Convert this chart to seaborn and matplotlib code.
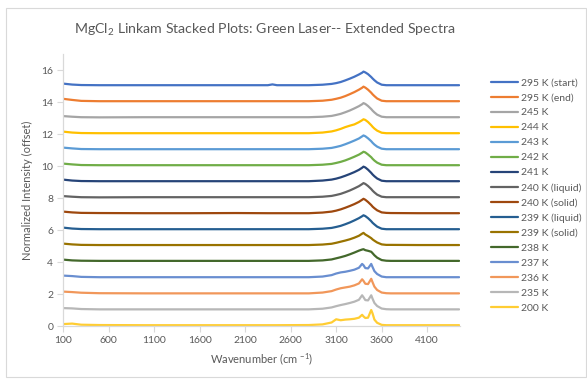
import matplotlib
matplotlib.use("Agg")
import matplotlib.pyplot as plt
import seaborn as sns
import pandas as pd
from matplotlib.patches import Rectangle

sns.set_theme(style="white")
plt.rcParams["font.family"] = ["Lato", "DejaVu Sans"]
plt.rcParams["mathtext.default"] = "regular"

# Sampled wavenumbers (cm^-1) shared by every spectrum
wavenumber = [100, 200, 300, 500, 1000, 1500, 2000, 2350, 2400, 2450, 2800, 2950,
              3050, 3100, 3150, 3200, 3250, 3300, 3350, 3385, 3400, 3420, 3450,
              3485, 3500, 3520, 3550, 3600, 3650, 3700, 4000, 4450]

# Normalized intensity of each spectrum before the stacking offset
i_295_start = [0.15, 0.09, 0.06, 0.05, 0.05, 0.05, 0.05, 0.05, 0.10, 0.05, 0.05, 0.08,
               0.13, 0.18, 0.25, 0.35, 0.46, 0.58, 0.72, 0.83, 0.90, 0.85, 0.74,
               0.56, 0.47, 0.36, 0.22, 0.08, 0.05, 0.05, 0.05, 0.05]
i_295_end = [0.20, 0.13, 0.07, 0.05, 0.05, 0.05, 0.05, 0.05, 0.05, 0.05, 0.05, 0.08,
             0.14, 0.20, 0.27, 0.37, 0.49, 0.62, 0.77, 0.89, 0.96, 0.90, 0.77,
             0.58, 0.48, 0.37, 0.22, 0.08, 0.05, 0.05, 0.05, 0.05]
i_245 = [0.12, 0.08, 0.05, 0.04, 0.05, 0.05, 0.05, 0.05, 0.05, 0.05, 0.05, 0.08,
         0.13, 0.19, 0.26, 0.36, 0.47, 0.60, 0.74, 0.86, 0.93, 0.88, 0.75,
         0.56, 0.46, 0.35, 0.21, 0.08, 0.05, 0.05, 0.05, 0.05]
i_244 = [0.15, 0.09, 0.06, 0.05, 0.05, 0.05, 0.05, 0.05, 0.05, 0.05, 0.05, 0.09,
         0.16, 0.23, 0.32, 0.43, 0.52, 0.60, 0.74, 0.86, 0.92, 0.88, 0.75,
         0.55, 0.45, 0.34, 0.21, 0.08, 0.05, 0.05, 0.05, 0.05]
i_243 = [0.15, 0.10, 0.06, 0.05, 0.05, 0.05, 0.05, 0.05, 0.05, 0.05, 0.05, 0.08,
         0.13, 0.19, 0.26, 0.36, 0.47, 0.59, 0.72, 0.85, 0.91, 0.86, 0.73,
         0.55, 0.45, 0.34, 0.21, 0.08, 0.05, 0.05, 0.05, 0.05]
i_242 = [0.15, 0.10, 0.06, 0.05, 0.05, 0.05, 0.05, 0.05, 0.05, 0.05, 0.05, 0.08,
         0.13, 0.19, 0.26, 0.35, 0.46, 0.58, 0.71, 0.83, 0.89, 0.85, 0.72,
         0.55, 0.45, 0.34, 0.21, 0.08, 0.05, 0.05, 0.05, 0.05]
i_241 = [0.15, 0.09, 0.06, 0.05, 0.05, 0.05, 0.05, 0.05, 0.05, 0.05, 0.05, 0.09,
         0.15, 0.21, 0.29, 0.39, 0.50, 0.62, 0.76, 0.89, 0.96, 0.91, 0.77,
         0.57, 0.47, 0.36, 0.22, 0.08, 0.05, 0.05, 0.05, 0.05]
i_240_liquid = [0.12, 0.08, 0.05, 0.04, 0.05, 0.05, 0.05, 0.05, 0.05, 0.05, 0.05, 0.08,
                0.13, 0.19, 0.26, 0.36, 0.47, 0.60, 0.74, 0.87, 0.93, 0.88, 0.75,
                0.56, 0.46, 0.35, 0.21, 0.08, 0.05, 0.05, 0.05, 0.05]
i_240_solid = [0.15, 0.10, 0.07, 0.06, 0.05, 0.05, 0.06, 0.05, 0.05, 0.05, 0.05, 0.09,
               0.15, 0.21, 0.29, 0.39, 0.50, 0.62, 0.76, 0.89, 0.95, 0.89, 0.75,
               0.56, 0.46, 0.36, 0.23, 0.10, 0.07, 0.06, 0.05, 0.05]
i_239_liquid = [0.15, 0.09, 0.06, 0.05, 0.05, 0.05, 0.05, 0.05, 0.05, 0.05, 0.05, 0.08,
                0.13, 0.19, 0.26, 0.36, 0.47, 0.60, 0.74, 0.86, 0.92, 0.87, 0.74,
                0.55, 0.45, 0.35, 0.21, 0.08, 0.05, 0.05, 0.05, 0.05]
i_239_solid = [0.15, 0.10, 0.07, 0.06, 0.06, 0.06, 0.06, 0.06, 0.06, 0.06, 0.06, 0.09,
               0.14, 0.20, 0.27, 0.34, 0.42, 0.52, 0.64, 0.77, 0.82, 0.72, 0.62,
               0.49, 0.41, 0.33, 0.22, 0.10, 0.07, 0.07, 0.06, 0.06]
i_238 = [0.15, 0.10, 0.08, 0.07, 0.07, 0.07, 0.07, 0.07, 0.07, 0.07, 0.07, 0.10,
         0.16, 0.23, 0.30, 0.38, 0.48, 0.59, 0.71, 0.78, 0.80, 0.74, 0.70,
         0.64, 0.55, 0.42, 0.27, 0.12, 0.08, 0.07, 0.07, 0.07]
i_237 = [0.15, 0.12, 0.07, 0.05, 0.05, 0.05, 0.05, 0.05, 0.05, 0.05, 0.05, 0.09,
         0.18, 0.28, 0.35, 0.39, 0.45, 0.52, 0.64, 0.88, 0.80, 0.62, 0.60,
         0.88, 0.68, 0.43, 0.25, 0.09, 0.05, 0.05, 0.05, 0.05]
i_236 = [0.15, 0.12, 0.08, 0.05, 0.04, 0.04, 0.04, 0.04, 0.04, 0.04, 0.04, 0.09,
         0.18, 0.28, 0.36, 0.41, 0.46, 0.54, 0.66, 0.92, 0.82, 0.64, 0.62,
         0.95, 0.73, 0.46, 0.25, 0.09, 0.05, 0.04, 0.04, 0.04]
i_235 = [0.12, 0.10, 0.06, 0.04, 0.04, 0.04, 0.04, 0.04, 0.04, 0.04, 0.04, 0.08,
         0.16, 0.24, 0.31, 0.37, 0.44, 0.52, 0.64, 0.92, 0.80, 0.62, 0.60,
         0.92, 0.70, 0.44, 0.25, 0.09, 0.05, 0.04, 0.04, 0.04]
i_200 = [0.12, 0.15, 0.08, 0.06, 0.05, 0.05, 0.05, 0.05, 0.05, 0.05, 0.06, 0.10,
         0.22, 0.42, 0.36, 0.40, 0.42, 0.45, 0.52, 0.70, 0.60, 0.50, 0.52,
         1.00, 0.78, 0.40, 0.20, 0.07, 0.05, 0.05, 0.05, 0.05]

series_labels = ["295 K (start)", "295 K (end)", "245 K", "244 K", "243 K", "242 K",
                 "241 K", "240 K (liquid)", "240 K (solid)", "239 K (liquid)",
                 "239 K (solid)", "238 K", "237 K", "236 K", "235 K", "200 K"]
series_values = [i_295_start, i_295_end, i_245, i_244, i_243, i_242, i_241,
                 i_240_liquid, i_240_solid, i_239_liquid, i_239_solid, i_238,
                 i_237, i_236, i_235, i_200]
# Vertical stacking offset: the coldest spectrum sits at 0, each warmer one 1 higher
offsets = list(range(len(series_labels) - 1, -1, -1))

colors = ["#4472C4", "#ED7D31", "#A5A5A5", "#FFC000", "#5B9BD5", "#70AD47",
          "#264478", "#636363", "#9E480E", "#255E91", "#997300", "#43682B",
          "#698ED0", "#F1975A", "#B7B7B7", "#FFCD33"]

rows = []
for label, vals, off in zip(series_labels, series_values, offsets):
    for w, v in zip(wavenumber, vals):
        rows.append({"Wavenumber": w, "Intensity": v + off, "Series": label})
df = pd.DataFrame(rows)

fig = plt.figure(figsize=(5.87, 3.79), dpi=100)
ax = fig.add_axes([63 / 587, 1 - 326 / 379, (460 - 63) / 587, (326 - 54) / 379])

sns.lineplot(data=df, x="Wavenumber", y="Intensity", hue="Series",
             hue_order=series_labels, palette=colors, linewidth=1.6,
             sort=False, estimator=None, ax=ax)

text_color = "#595959"
axis_color = "#D9D9D9"

ax.set_xlim(100, 4460)
ax.set_ylim(0, 17)
ax.set_xticks(range(100, 4101, 500))
ax.set_yticks(range(0, 17, 2))
ax.tick_params(axis="both", labelsize=7.5, colors=text_color, length=4,
               width=0.8, direction="out", color=axis_color, pad=3)
ax.tick_params(axis="x", bottom=True)
ax.tick_params(axis="y", left=True)
for side in ["top", "right"]:
    ax.spines[side].set_visible(False)
for side in ["left", "bottom"]:
    ax.spines[side].set_color(axis_color)
    ax.spines[side].set_linewidth(0.9)

ax.set_xlabel("Wavenumber (cm $^{-1}$)", fontsize=8, color=text_color, labelpad=5)
ax.set_ylabel("Normalized Intensity (offset)", fontsize=8, color=text_color, labelpad=6)

ax.legend(loc="upper left", bbox_to_anchor=(491 / 587, 1 - 78 / 379),
          bbox_transform=fig.transFigure, frameon=False, fontsize=7.5,
          handlelength=2.6, handletextpad=0.3, labelspacing=0.55,
          borderpad=0, borderaxespad=0, labelcolor=text_color)

fig.text(265 / 587, 1 - 30 / 379,
         "MgCl$_2$ Linkam Stacked Plots: Green Laser-- Extended Spectra",
         ha="center", va="center", fontsize=10.2, color=text_color)

fig.patches.append(Rectangle((6 / 587, 0.004), 580 / 587, 1 - 8 / 379 - 0.004,
                             transform=fig.transFigure, fill=False,
                             edgecolor=axis_color, linewidth=0.8))

fig.savefig("out.png", dpi=100)
